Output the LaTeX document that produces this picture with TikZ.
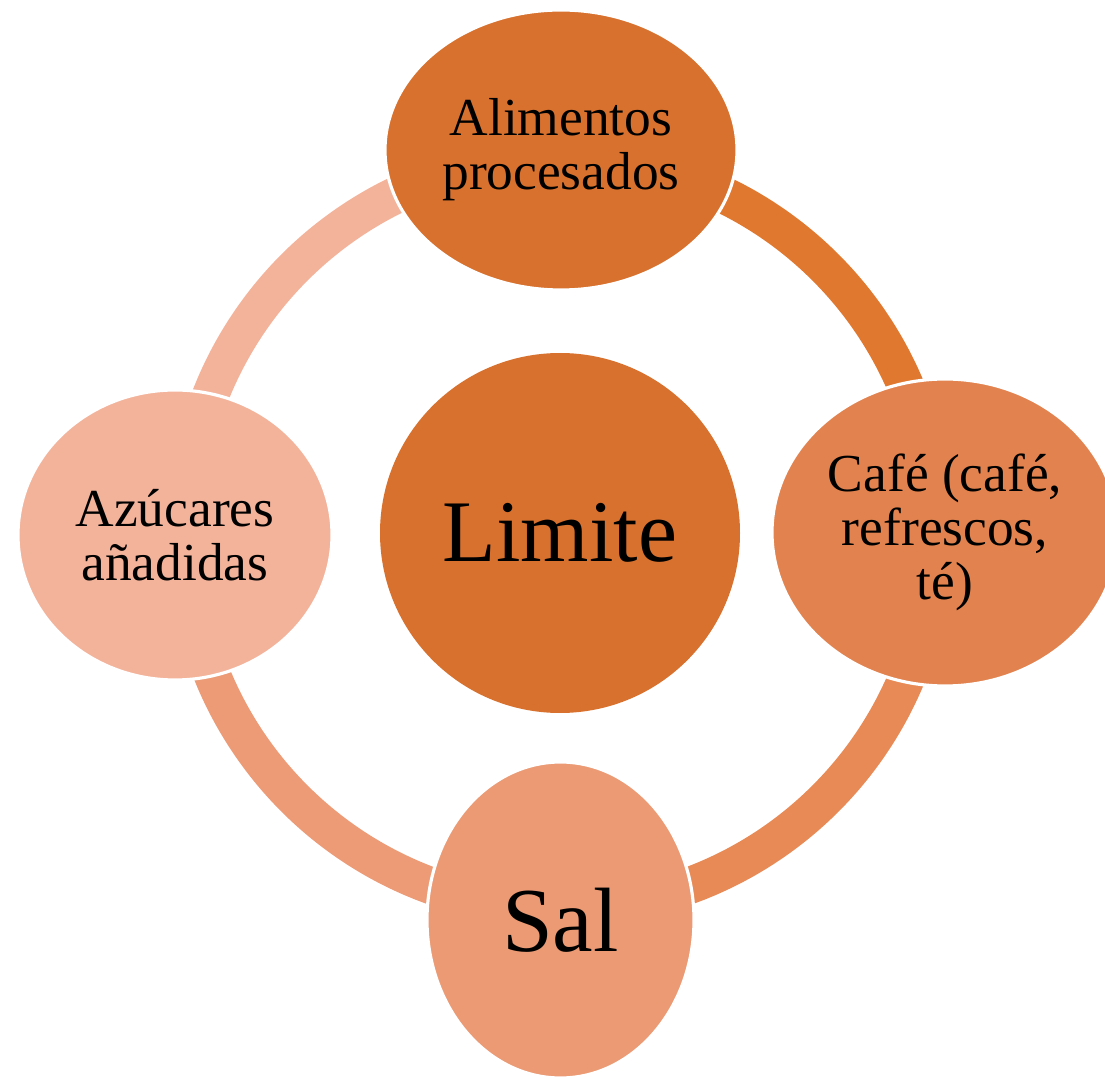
\documentclass[tikz,border=0pt]{standalone}
\usepackage{fontspec}
\setmainfont{Liberation Serif}
\usepackage{tikz}
\usetikzlibrary{shapes.geometric}
\usetikzlibrary{positioning}
\definecolor{deeporange}{HTML}{D8712E}
\definecolor{arcone}{HTML}{E0782F}
\definecolor{cafefill}{HTML}{E2834F}
\definecolor{arctwo}{HTML}{E88A55}
\definecolor{salfill}{HTML}{EB9A74}
\definecolor{arcthree}{HTML}{EC9B76}
\definecolor{sugarfill}{HTML}{F3B39B}
\tikzset{ring/.style = {line width = 0.37cm}}
\tikzset{bubble/.style = {ellipse, draw = white, line width = 0.9pt, inner sep = 0,
                          align = center, text = black,
                          font = \fontsize{15.2}{15.3}\selectfont}}
\tikzset{bigword/.style = {font = \fontsize{25}{30}\selectfont}}

\begin{document}
\begin{tikzpicture}
      \useasboundingbox (0, 0) rectangle (11.05, 10.76);
      \coordinate (o) at (5.60, 5.43);

      \draw [ring, arcone] ([shift={(90:3.755)}]o) arc (90: 0:3.755);
      \draw [ring, arctwo] ([shift={(0:3.755)}]o) arc (0: -90:3.755);
      \draw [ring, arcthree] ([shift={(-90:3.755)}]o) arc (-90: -180:3.755);
      \draw [ring, sugarfill] ([shift={(180:3.755)}]o) arc (180: 90:3.755);

      \node [circle, fill = deeporange, minimum size = 3.6cm, inner sep = 0, bigword] (hub) at (o) {Limite};

      \node [bubble, fill = deeporange, minimum width = 3.52cm, minimum height = 2.80cm] (food) at (5.61, 9.26) {Alimentos\\procesados};
      \node [bubble, fill = cafefill, minimum width = 3.46cm, minimum height = 3.07cm] (cafe) at (9.45, 5.435) {Café (café,\\refrescos,\\té)};
      \node [bubble, fill = salfill, minimum width = 2.67cm, minimum height = 3.16cm] (sal) at (5.605, 1.56) {\fontsize{26}{30}\selectfont Sal};
      \node [bubble, fill = sugarfill, minimum width = 3.14cm, minimum height = 2.90cm] (sugar) at (1.75, 5.41) {Azúcares\\añadidas};
\end{tikzpicture}
\end{document}
